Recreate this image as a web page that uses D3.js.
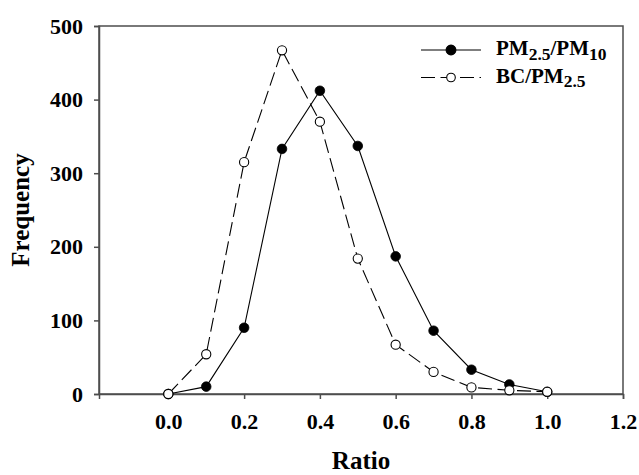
<!DOCTYPE html>
<html>
<head>
<meta charset="utf-8">
<script src="https://cdn.jsdelivr.net/npm/d3@7"></script>
<style>
  html, body { margin: 0; padding: 0; background: #ffffff; }
  svg { display: block; }
  text { font-family: "Liberation Serif", "Times New Roman", serif; font-weight: bold; fill: #000; }
</style>
</head>
<body>
<svg id="chart" width="639" height="475"></svg>
<script>
const ratio = [0.0, 0.1, 0.2, 0.3, 0.4, 0.5, 0.6, 0.7, 0.8, 0.9, 1.0];
const pmRatio = [0, 10, 90, 333, 412, 337, 187, 86, 33, 13, 3];
const bcRatio = [0, 54, 315, 467, 370, 184, 67, 30, 9, 5, 3];
const xTicks = [0.0, 0.2, 0.4, 0.6, 0.8, 1.0, 1.2];
const yTicks = [0, 100, 200, 300, 400, 500];

const svg = d3.select("#chart");
const pLeft = 99, pRight = 623, pTop = 26, pBottom = 394;

const x = d3.scaleLinear().domain([-0.183, 1.2]).range([pLeft, pRight]);
const y = d3.scaleLinear().domain([0, 500]).range([pBottom, pTop]);

const axisColor = "#4d4d4d";

// frame
svg.append("rect")
  .attr("x", pLeft).attr("y", pTop)
  .attr("width", pRight - pLeft).attr("height", pBottom - pTop)
  .attr("fill", "none").attr("stroke", axisColor).attr("stroke-width", 1.5);

// x axis
const gx = svg.append("g")
  .attr("transform", `translate(0,${pBottom})`)
  .call(d3.axisBottom(x).tickValues(xTicks).tickFormat(d3.format(".1f")).tickSize(5).tickPadding(17));
gx.select(".domain").attr("stroke", axisColor).attr("stroke-width", 1.5);
gx.selectAll(".tick line").attr("stroke", axisColor).attr("stroke-width", 1.5);
gx.selectAll(".tick text").style("font-size", "22px").attr("dy", "0.6em");

// y axis
const gy = svg.append("g")
  .attr("transform", `translate(${pLeft},0)`)
  .call(d3.axisLeft(y).tickValues(yTicks).tickFormat(d3.format("d")).tickSize(5).tickPadding(11));
gy.select(".domain").attr("stroke", axisColor).attr("stroke-width", 1.5);
gy.selectAll(".tick line").attr("stroke", axisColor).attr("stroke-width", 1.5);
gy.selectAll(".tick text").style("font-size", "22px");

// axis titles
svg.append("text")
  .attr("x", (pLeft + pRight) / 2).attr("y", 469)
  .attr("text-anchor", "middle")
  .style("font-size", "25px")
  .text("Ratio");

svg.append("text")
  .attr("transform", `translate(29,${(pTop + pBottom) / 2}) rotate(-90)`)
  .attr("text-anchor", "middle")
  .style("font-size", "25px")
  .text("Frequency");

const data1 = ratio.map((r, i) => ({ r, v: pmRatio[i] }));
const data2 = ratio.map((r, i) => ({ r, v: bcRatio[i] }));
const line = d3.line().x(d => x(d.r)).y(d => y(d.v));

// series 1: PM2.5/PM10 solid, filled
svg.append("path").datum(data1)
  .attr("d", line).attr("fill", "none").attr("stroke", "#000").attr("stroke-width", 1.1);
svg.append("g").selectAll("circle").data(data1).join("circle")
  .attr("cx", d => x(d.r)).attr("cy", d => y(d.v)).attr("r", 4.8)
  .attr("fill", "#000").attr("stroke", "#000").attr("stroke-width", 0.8);

// series 2: BC/PM2.5 dashed, open
svg.append("path").datum(data2)
  .attr("d", line).attr("fill", "none").attr("stroke", "#000").attr("stroke-width", 1.1)
  .attr("stroke-dasharray", "14,5.5");
svg.append("g").selectAll("circle").data(data2).join("circle")
  .attr("cx", d => x(d.r)).attr("cy", d => y(d.v)).attr("r", 4.6)
  .attr("fill", "#fff").attr("stroke", "#000").attr("stroke-width", 1.1);

// legend
const legend = svg.append("g");
const legItems = [
  { y: 50, dash: null, fill: "#000", main: "PM", sub: "2.5", main2: "/PM", sub2: "10" },
  { y: 77.5, dash: "14,5.5", fill: "#fff", main: "BC/PM", sub: "2.5", main2: null, sub2: null }
];
legItems.forEach(it => {
  legend.append("line")
    .attr("x1", 421).attr("x2", 481).attr("y1", it.y).attr("y2", it.y)
    .attr("stroke", "#000").attr("stroke-width", 1.1)
    .attr("stroke-dasharray", it.dash);
  legend.append("circle")
    .attr("cx", 451).attr("cy", it.y).attr("r", it.fill === "#000" ? 4.9 : 4.3)
    .attr("fill", it.fill).attr("stroke", "#000").attr("stroke-width", 1.1);
  const t = legend.append("text").attr("x", 496).attr("y", it.y + 5).style("font-size", "21px");
  t.append("tspan").text(it.main);
  t.append("tspan").attr("dy", 4.5).style("font-size", "17.5px").text(it.sub);
  if (it.main2) {
    t.append("tspan").attr("dy", -4.5).text(it.main2);
    t.append("tspan").attr("dy", 4.5).style("font-size", "17.5px").text(it.sub2);
  }
});
</script>
</body>
</html>
